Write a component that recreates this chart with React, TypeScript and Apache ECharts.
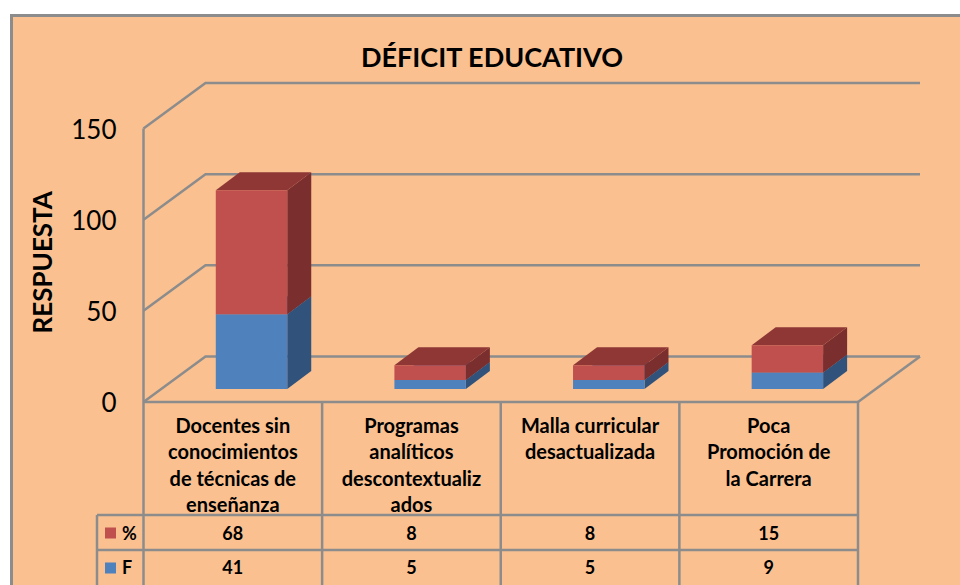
import React, { useEffect, useRef } from "react";
import * as echarts from "echarts";

const categories = [
  "Docentes sin\nconocimientos\nde técnicas de\nenseñanza",
  "Programas\nanalíticos\ndescontextualiz\nados",
  "Malla curricular\ndesactualizada",
  "Poca\nPromoción de\nla Carrera",
];
const fValues = [41, 5, 5, 9];
const pctValues = [68, 8, 8, 15];
const yTicks = [0, 50, 100, 150];

const BG = "#FAC090";
const LINE = "#8C8C8C";
const FONT = "Lato, Carlito, sans-serif";
const GRID = { left: 143.5, top: 128.5, width: 714.5, height: 273.5 };
const WALL = { dx: 62, dy: -45.5 };
const BAR = { dx: 18.7, dy: -13, depthX: 24, depthY: -18, ratio: 0.4 };
const ROW_Y = [515, 550];
const TABLE_LEFT = 97;

const shade = {
  red: { front: "#C0504D", side: "#7A2E2D", top: "#8E3735" },
  blue: { front: "#4F81BD", side: "#31527A", top: "#3B6190" },
};

function barRender(c: { front: string; side: string; top: string }) {
  return (_p: any, api: any) => {
    const i = api.value(0);
    const base = api.coord([i, api.value(1)]);
    const top = api.coord([i, api.value(2)]);
    const w = api.size([1, 0])[0] * BAR.ratio;
    const xl = base[0] + BAR.dx - w / 2;
    const xr = xl + w;
    const yb = base[1] + BAR.dy;
    const yt = top[1] + BAR.dy;
    const dx = BAR.depthX;
    const dy = BAR.depthY;
    const stroke = { stroke: "none" };
    return {
      type: "group",
      children: [
        { type: "polygon", shape: { points: [[xr, yb], [xr + dx, yb + dy], [xr + dx, yt + dy], [xr, yt]] }, style: { fill: c.side, ...stroke } },
        { type: "polygon", shape: { points: [[xl, yt], [xr, yt], [xr + dx, yt + dy], [xl + dx, yt + dy]] }, style: { fill: c.top, ...stroke } },
        { type: "rect", shape: { x: xl, y: yt, width: w, height: yb - yt }, style: { fill: c.front, ...stroke } },
      ],
    };
  };
}

export default function App() {
  const ref = useRef<HTMLDivElement>(null);
  useEffect(() => {
    document.body.style.margin = "0";
    const chart = echarts.init(ref.current!, null, { renderer: "svg" });
    const lineStyle = { stroke: LINE, lineWidth: 2.5, fill: "none" };
    const gridBottom = GRID.top + GRID.height;
    const gridRight = GRID.left + GRID.width;

    const frameRender = (_p: any, api: any) => {
      const v = api.value(0);
      const y = api.coord([0, v])[1];
      const children: any[] = [
        {
          type: "polyline",
          shape: { points: [[GRID.left, y], [GRID.left + WALL.dx, y + WALL.dy], [gridRight + WALL.dx, y + WALL.dy]] },
          style: lineStyle,
        },
      ];
      if (v === 0) {
        children.push({
          type: "polyline",
          shape: { points: [[gridRight + WALL.dx, y + WALL.dy], [gridRight, y]] },
          style: lineStyle,
        });
      }
      return { type: "group", children };
    };

    const tableRender = (_p: any, api: any) => {
      const i = api.value(0);
      const x = api.coord([i, 0])[0];
      const mk = (val: number, y: number) => ({
        type: "text",
        style: { x, y, text: String(val), fill: "#000", font: `bold 18px ${FONT}`, textAlign: "center", textVerticalAlign: "middle" },
      });
      return { type: "group", children: [mk(api.value(1), 533), mk(api.value(2), 567)] };
    };

    const vLines = [0, 1, 2, 3, 4].map((k) => {
      const x = GRID.left + (GRID.width * k) / 4;
      return { type: "line", shape: { x1: x, y1: gridBottom, x2: x, y2: 590 }, style: lineStyle };
    });

    chart.setOption({
      animation: false,
      backgroundColor: "#FFFFFF",
      title: {
        text: "DÉFICIT EDUCATIVO",
        left: 487,
        top: 38,
        textAlign: "center",
        textStyle: { fontFamily: FONT, fontWeight: "bold", fontSize: 27, color: "#000" },
      },
      grid: { ...GRID, containLabel: false },
      xAxis: {
        type: "category",
        data: categories,
        axisLine: { show: false },
        axisTick: { show: false },
        axisLabel: {
          interval: 0,
          margin: 10,
          color: "#000",
          fontFamily: FONT,
          fontWeight: "bold",
          fontSize: 20,
          lineHeight: 26.3,
          align: "center",
          verticalAlign: "top",
        },
      },
      yAxis: {
        type: "value",
        min: 0,
        max: 150,
        interval: 50,
        name: "RESPUESTA",
        nameLocation: "middle",
        nameRotate: 90,
        nameGap: 89,
        nameTextStyle: { fontFamily: FONT, fontWeight: "bold", fontSize: 26, color: "#000", padding: [0, 0, 0, 6] },
        axisLine: { show: false },
        axisTick: { show: false },
        splitLine: { show: false },
        axisLabel: { margin: 27, color: "#000", fontFamily: FONT, fontSize: 26 },
      },
      graphic: [
        {
          type: "rect",
          z: -10,
          shape: { x: 11.5, y: 15.5, width: 980, height: 600 },
          style: { fill: BG, stroke: LINE, lineWidth: 3 },
        },
        ...vLines.map((e) => ({ ...e, z: 1 })),
        ...ROW_Y.map((y) => ({
          type: "line",
          z: 1,
          shape: { x1: TABLE_LEFT, y1: y, x2: gridRight, y2: y },
          style: lineStyle,
        })),
        { type: "line", z: 1, shape: { x1: GRID.left, y1: gridBottom, x2: gridRight, y2: gridBottom }, style: lineStyle },
        { type: "line", z: 1, shape: { x1: GRID.left, y1: GRID.top, x2: GRID.left, y2: gridBottom }, style: lineStyle },
        { type: "line", z: 1, shape: { x1: TABLE_LEFT, y1: ROW_Y[0], x2: TABLE_LEFT, y2: 590 }, style: lineStyle },
        { type: "rect", z: 1, shape: { x: 105, y: 527.5, width: 11, height: 11 }, style: { fill: shade.red.front } },
        { type: "rect", z: 1, shape: { x: 105, y: 562.5, width: 11, height: 11 }, style: { fill: shade.blue.front } },
        { type: "text", z: 1, style: { x: 122, y: 533, text: "%", fill: "#000", font: `bold 18px ${FONT}`, textVerticalAlign: "middle" } },
        { type: "text", z: 1, style: { x: 122, y: 567, text: "F", fill: "#000", font: `bold 18px ${FONT}`, textVerticalAlign: "middle" } },
      ],
      series: [
        { type: "custom", name: "grid", silent: true, z: 1, renderItem: frameRender, data: yTicks.map((v) => [v]), encode: { y: 0 } },
        {
          type: "custom",
          name: "F",
          z: 3,
          renderItem: barRender(shade.blue),
          data: fValues.map((v, i) => [i, 0, v]),
          encode: { x: 0, y: 2 },
        },
        {
          type: "custom",
          name: "%",
          z: 4,
          renderItem: barRender(shade.red),
          data: pctValues.map((v, i) => [i, fValues[i], fValues[i] + v]),
          encode: { x: 0, y: 2 },
        },
        {
          type: "custom",
          name: "table",
          z: 5,
          silent: true,
          renderItem: tableRender,
          data: pctValues.map((v, i) => [i, v, fValues[i]]),
          encode: { x: 0 },
        },
      ],
    });
    return () => chart.dispose();
  }, []);
  return <div ref={ref} style={{ width: 960, height: 585 }} />;
}
